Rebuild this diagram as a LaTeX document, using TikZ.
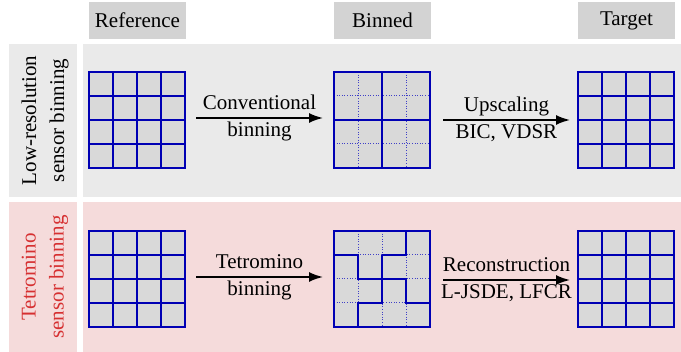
\documentclass[tikz,border=0pt]{standalone}
\usepackage{fontspec}
\setmainfont{Liberation Serif}
\usetikzlibrary{arrows.meta}
\definecolor{panelgray}{RGB}{234,234,234}
\definecolor{panelpink}{RGB}{245,219,219}
\definecolor{headgray}{RGB}{211,211,211}
\definecolor{cellgray}{RGB}{217,217,217}
\definecolor{gridblue}{RGB}{0,0,180}
\definecolor{labelred}{RGB}{214,48,49}
\tikzset{
  solidline/.style={gridblue, line width=1.8pt, line cap=rect},
  dotline/.style={gridblue!75, line width=1pt, dash pattern=on 1pt off 1.6pt},
  flowarrow/.style={-{Latex[length=14pt,width=10pt]}, line width=1.8pt},
  lbl/.style={font=\fontsize{21}{27}\selectfont, inner sep=0pt},
  header/.style={lbl, fill=headgray, minimum width=97pt, minimum height=37pt},
  sidelbl/.style={font=\fontsize{21}{28}\selectfont, inner sep=0pt, rotate=90, align=center},
}
\newcommand\gridfull[1]{%
  \begin{scope}[shift={(#1)}, x=24pt, y=-24pt]
    \fill[cellgray] (0,0) rectangle (4,4);
    \foreach \i in {1,2,3} {\draw[solidline] (\i,0) -- (\i,4); \draw[solidline] (0,\i) -- (4,\i);}
    \draw[solidline, line cap=butt] (0,0) rectangle (4,4);
  \end{scope}}
\newcommand\gridbinned[1]{%
  \begin{scope}[shift={(#1)}, x=24pt, y=-24pt]
    \fill[cellgray] (0,0) rectangle (4,4);
    \foreach \i in {1,3} {\draw[dotline] (\i,0) -- (\i,4); \draw[dotline] (0,\i) -- (4,\i);}
    \draw[solidline] (2,0) -- (2,4) (0,2) -- (4,2);
    \draw[solidline, line cap=butt] (0,0) rectangle (4,4);
  \end{scope}}
\newcommand\gridtetro[1]{%
  \begin{scope}[shift={(#1)}, x=24pt, y=-24pt]
    \fill[cellgray] (0,0) rectangle (4,4);
    \foreach \i in {1,2,3} {\draw[dotline] (\i,0) -- (\i,4); \draw[dotline] (0,\i) -- (4,\i);}
    \draw[solidline, line cap=butt, line join=miter]
      (0,1) -- (1,1) -- (1,2) -- (3,2) -- (3,3) -- (4,3)
      (2,1) -- (3,1) -- (3,0)
      (2,1) -- (2,3) -- (1,3) -- (1,4);
    \draw[solidline, line cap=butt] (0,0) rectangle (4,4);
  \end{scope}}
\begin{document}
\begin{tikzpicture}[x=1pt, y=-1pt]
  \useasboundingbox (0,0) rectangle (681,352);
  % panels
  \fill[panelgray] (9,44) rectangle (77,197);
  \fill[panelgray] (83,44) rectangle (681,197);
  \fill[panelpink] (9,202) rectangle (77,352);
  \fill[panelpink] (83,202) rectangle (681,352);
  % headers
  \node[header] (hRef) at (137.5,20.5) {Reference};
  \node[header] (hBin) at (382.5,20.5) {Binned};
  \node[header] (hTar) at (626.5,20.5) {Target};
  % side labels
  \node[sidelbl] (sTop) at (45,120.5) {Low-resolution\\sensor binning};
  \node[sidelbl, text=labelred] (sBot) at (45,277) {Tetromino\\sensor binning};
  % grid anchors
  \coordinate (g11) at (89,72);
  \coordinate (g12) at (334,72);
  \coordinate (g13) at (578,72);
  \coordinate (g21) at (89,231);
  \coordinate (g22) at (334,231);
  \coordinate (g23) at (578,231);
  \gridfull{g11}
  \gridbinned{g12}
  \gridfull{g13}
  \gridfull{g21}
  \gridtetro{g22}
  \gridfull{g23}
  % arrows
  \coordinate (a1s) at (196,118); \coordinate (a1e) at (323,118);
  \coordinate (a2s) at (443,120); \coordinate (a2e) at (570,120);
  \coordinate (a3s) at (196,277); \coordinate (a3e) at (323,277);
  \coordinate (a4s) at (443,280); \coordinate (a4e) at (570,280);
  \draw[flowarrow] (a1s) -- (a1e);
  \draw[flowarrow] (a2s) -- (a2e);
  \draw[flowarrow] (a3s) -- (a3e);
  \draw[flowarrow] (a4s) -- (a4e);
  % arrow labels
  \node[lbl, anchor=base] (t1a) at (259.5,110) {Conventional};
  \node[lbl, anchor=base] (t1b) at (259.5,137) {binning};
  \node[lbl, anchor=base] (t2a) at (506.5,112) {Upscaling};
  \node[lbl, anchor=base] (t2b) at (506.5,139) {BIC, VDSR};
  \node[lbl, anchor=base] (t3a) at (259.5,269) {Tetromino};
  \node[lbl, anchor=base] (t3b) at (259.5,296) {binning};
  \node[lbl, anchor=base] (t4a) at (506.5,272) {Reconstruction};
  \node[lbl, anchor=base] (t4b) at (506.5,299) {L-JSDE, LFCR};
\end{tikzpicture}
\end{document}
